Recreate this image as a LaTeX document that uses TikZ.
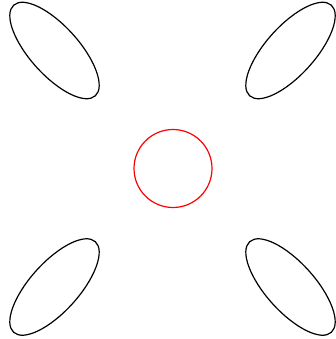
\documentclass[tikz,border=0pt]{standalone}
\usepackage{tikz}
\usetikzlibrary{shapes.geometric}

\begin{document}
\begin{tikzpicture}[
  x=1pt, y=-1pt,
  blob/.style={draw, ellipse, line width=1.2pt, inner sep=0pt, minimum width=122pt, minimum height=49pt},
  hub/.style={draw=red, circle, line width=1.2pt, inner sep=0pt, minimum size=78pt}
]
  \useasboundingbox (0,0) rectangle (335,339);
  \node[blob, rotate=-48] (tl) at (54.5,50.5) {};
  \node[blob, rotate=48] (tr) at (290.5,50.5) {};
  \node[blob, rotate=48] (bl) at (54.5,287) {};
  \node[blob, rotate=-48] (br) at (290.5,287) {};
  \node[hub] (mid) at (173,168.5) {};
\end{tikzpicture}
\end{document}
